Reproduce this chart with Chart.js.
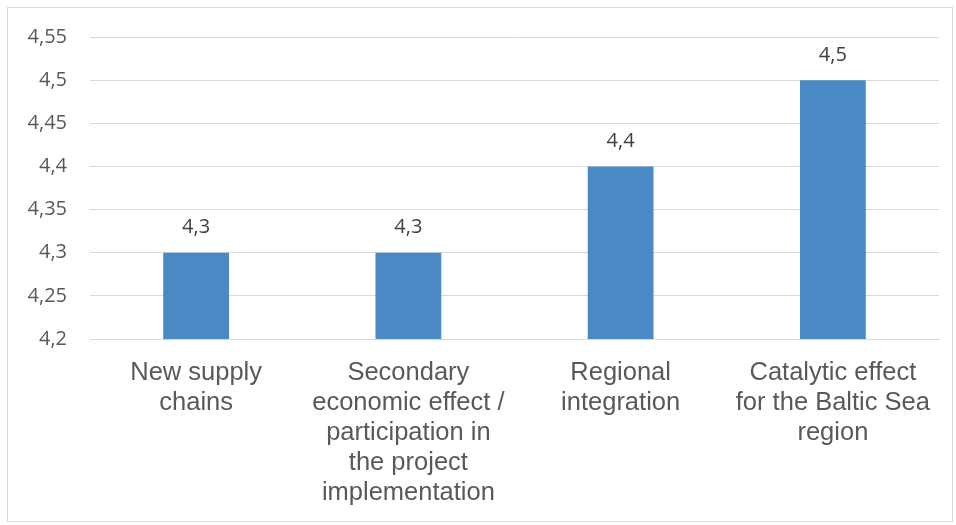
<!DOCTYPE html>
<html>
<head>
<meta charset="utf-8">
<script src="https://cdn.jsdelivr.net/npm/chart.js@4/dist/chart.umd.min.js"></script>
<style>
html,body{margin:0;padding:0;background:#fff;}
#wrap{position:absolute;left:0;top:0;width:956px;height:525px;}
#frame{position:absolute;left:7px;top:7px;width:946px;height:515px;border:1px solid #d9d9d9;box-sizing:border-box;}
canvas{position:absolute;left:0;top:0;}
</style>
</head>
<body>
<div id="wrap">
<div id="frame"></div>
<canvas id="c" width="956" height="525"></canvas>
</div>
<script>
const categories = [
  ["New supply", "chains"],
  ["Secondary", "economic effect /", "participation in", "the project", "implementation"],
  ["Regional", "integration"],
  ["Catalytic effect", "for the Baltic Sea", "region"]
];
const values = [4.3, 4.3, 4.4, 4.5];
const yMin = 4.2, yMax = 4.55, yStep = 0.05;

function fmt(v) {
  return (Math.round(v * 100) / 100).toString().replace('.', ',');
}

const dataLabels = {
  id: 'dataLabels',
  afterDatasetsDraw(chart) {
    const ctx = chart.ctx;
    const meta = chart.getDatasetMeta(0);
    ctx.save();
    ctx.font = '20px "Open Sans"';
    ctx.fillStyle = '#404040';
    ctx.textAlign = 'center';
    ctx.textBaseline = 'middle';
    meta.data.forEach((bar, i) => {
      ctx.fillText(fmt(values[i]), bar.x, bar.y - 25);
    });
    ctx.restore();
  }
};

new Chart(document.getElementById('c'), {
  type: 'bar',
  data: {
    labels: categories,
    datasets: [{
      data: values,
      backgroundColor: '#4a89c3',
      barPercentage: 0.31,
      categoryPercentage: 1.0
    }]
  },
  options: {
    responsive: false,
    animation: false,
    devicePixelRatio: 1,
    layout: { padding: { left: 0, right: 17, top: 37, bottom: 0 } },
    plugins: { legend: { display: false }, tooltip: { enabled: false } },
    scales: {
      x: {
        grid: { display: false, drawTicks: false },
        border: { display: true, color: '#d9d9d9', width: 1 },
        ticks: {
          color: '#595959',
          font: { family: '"Liberation Sans", Arial, sans-serif', size: 25.5, lineHeight: 1.18 },
          padding: 19,
          maxRotation: 0,
          autoSkip: false
        },
        afterFit(s) { s.height = 186; }
      },
      y: {
        min: yMin,
        max: yMax,
        grid: { color: '#d9d9d9', lineWidth: 1, drawTicks: false },
        border: { display: false },
        ticks: {
          stepSize: yStep,
          color: '#595959',
          font: { family: '"Open Sans", sans-serif', size: 20 },
          padding: 23,
          callback: (v) => fmt(v)
        },
        afterFit(s) { s.width = 90; }
      }
    }
  },
  plugins: [dataLabels]
});
</script>
</body>
</html>
